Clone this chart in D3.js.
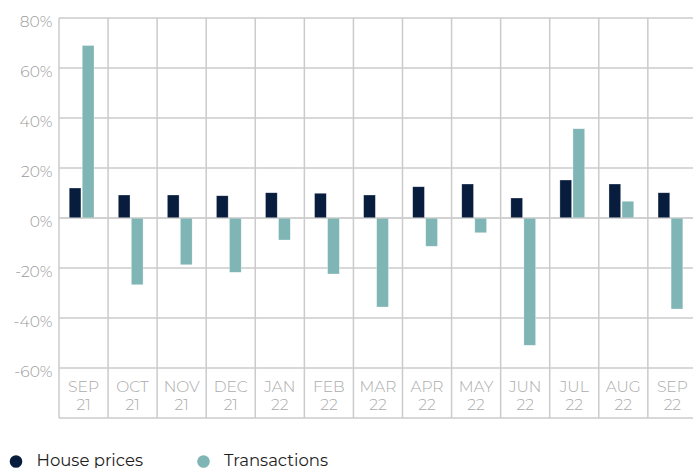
<!DOCTYPE html>
<html><head><meta charset="utf-8">
<script src="https://cdn.jsdelivr.net/npm/d3@7"></script>
<style>
html,body{margin:0;padding:0;background:#fff;}
svg{display:block;}
text{font-family:Montserrat,"Open Sans",Lato,sans-serif;}
</style></head>
<body><svg id="c" width="693" height="468"></svg>
<script>
const months = ["SEP","OCT","NOV","DEC","JAN","FEB","MAR","APR","MAY","JUN","JUL","AUG","SEP"];
const years  = ["21","21","21","21","22","22","22","22","22","22","22","22","22"];
const housePrices  = [12, 9.2, 9.2, 8.9, 10.1, 9.9, 9.2, 12.5, 13.6, 8, 15.2, 13.6, 10.1];
const transactions = [69, -26.7, -18.7, -21.7, -8.8, -22.4, -35.6, -11.3, -5.9, -50.9, 35.7, 6.7, -36.4];
const yTicks = [80, 60, 40, 20, 0, -20, -40, -60];
const seriesNames = ["House prices", "Transactions"];
const colors = ["#081d3e", "#7fb5b5"];

(function(){
const svg = d3.select("#c");
const mLeft = 59, mTop = 18, mBottom = 418, colW = 49.07;
const cats = months.map((m,i)=>i);
const x = d3.scaleBand().domain(cats).range([mLeft, mLeft + colW*cats.length]).padding(0);
const y = d3.scaleLinear().domain([-80, 80]).range([mBottom, mTop]);
const xi = d3.scaleBand().domain(seriesNames).range([10.2, 35]).paddingInner(0.1);

const grid = svg.append("g").attr("stroke", "#cbcbcb").attr("stroke-width", 1.5);
[80,60,40,20,0,-20,-40,-60,-80].forEach(v=>{
  grid.append("line").attr("x1", mLeft).attr("x2", 693).attr("y1", y(v)).attr("y2", y(v));
});
d3.range(cats.length+1).forEach(i=>{
  const xx = mLeft + i*x.step();
  grid.append("line").attr("x1", xx).attr("x2", xx).attr("y1", mTop).attr("y2", mBottom);
});

svg.append("g").selectAll("text").data(yTicks).join("text")
  .attr("x", 52.5).attr("y", d=>y(d)+8.5)
  .attr("text-anchor","end").attr("font-size", 15.5).attr("font-weight", 300)
  .attr("fill", "#9a9a9a").text(d=>d+"%");

const g = svg.append("g");
cats.forEach(i=>{
  [housePrices[i], transactions[i]].forEach((v,k)=>{
    g.append("rect")
      .attr("x", x(i) + xi(seriesNames[k]))
      .attr("width", xi.bandwidth())
      .attr("y", y(Math.max(0,v)))
      .attr("height", Math.abs(y(v)-y(0)))
      .attr("fill", colors[k])
      .attr("stroke", "#ffffff").attr("stroke-opacity", 0.5).attr("stroke-width", 0.6);
  });
});
svg.append("line").attr("x1", mLeft).attr("x2", 693).attr("y1", y(0)).attr("y2", y(0))
  .attr("stroke","#cbcbcb").attr("stroke-width",1.5).attr("opacity",0.6);

const cl = svg.append("g").attr("text-anchor","middle").attr("fill","#ababab")
  .attr("font-size", 15.5).attr("font-weight", 300);
cats.forEach(i=>{
  const cx = x(i) + x.bandwidth()/2;
  cl.append("text").attr("x", cx).attr("y", 392).text(months[i]);
  cl.append("text").attr("x", cx).attr("y", 410).text(years[i]);
});

const lg = svg.append("g");
const legX = [16, 203.5];
seriesNames.forEach((s,k)=>{
  lg.append("circle").attr("cx", legX[k]).attr("cy", 461.5).attr("r", 6.3).attr("fill", colors[k]);
  lg.append("text").attr("x", legX[k]+20.5).attr("y", 466).attr("font-size", 16.5)
    .attr("fill", "#1e1e1e").text(s);
});
})();
</script></body></html>
